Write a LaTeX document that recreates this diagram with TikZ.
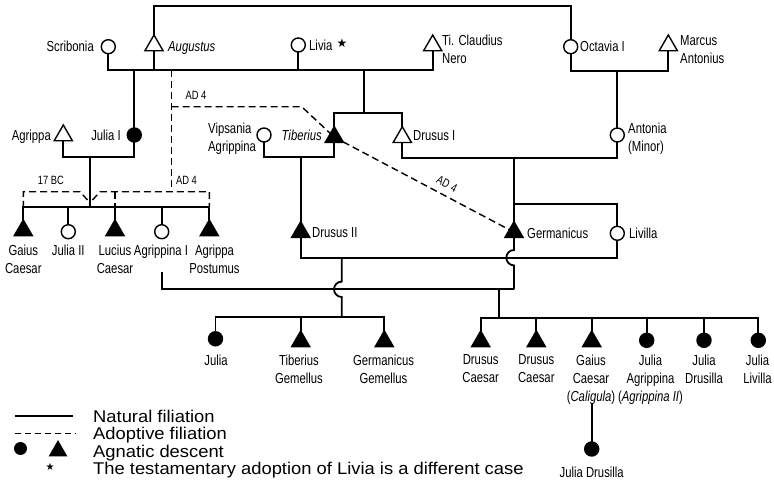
\documentclass[tikz,border=0pt]{standalone}
\usepackage{fontspec}
\setmainfont{Liberation Sans}
\newfontfamily\labfont{Liberation Sans}[FakeStretch=0.78]
\newfontfamily\legfont{Liberation Sans}[FakeStretch=1.08]
\newfontfamily\symfont{DejaVu Sans}
\usetikzlibrary{shapes.geometric}
\begin{document}
\begin{tikzpicture}[x=1pt,y=-1pt,
  male/.style={regular polygon, regular polygon sides=3, minimum size=21pt, inner sep=0pt, outer sep=0pt, draw, line width=1.4pt, fill=white},
  female/.style={circle, minimum size=14pt, inner sep=0pt, outer sep=0pt, draw, line width=1.4pt, fill=white},
  agn/.style={fill=black},
  nat/.style={line width=1.8pt},
  adopt/.style={line width=1.4pt, dash pattern=on 7pt off 4pt},
  lab/.style={font=\labfont\fontsize{14.5}{18}\selectfont, inner sep=0pt},
  kid/.style={lab, anchor=north, align=center},
  small/.style={font=\labfont\fontsize{12}{13}\selectfont, inner sep=0pt},
  leg/.style={font=\legfont\fontsize{17}{20}\selectfont, inner sep=0pt, anchor=base west},
  star/.style={font=\symfont\fontsize{10}{10}\selectfont, inner sep=0pt}]
\useasboundingbox (0,0) rectangle (774,495);

% ---------- persons ----------
\node[female] (scrib) at (108.3,46.7) {};
\node[male] (aug) at (154,45.5) {};
\node[female] (livia) at (298.3,45) {};
\node[male] (nero) at (432.7,45.5) {};
\node[female] (octavia) at (570.7,46.7) {};
\node[male] (antonius) at (668.3,45.5) {};

\node[male] (agrippa) at (63.3,135.5) {};
\node[female, agn] (julia1) at (134.3,135) {};
\node[female] (vips) at (264,135) {};
\node[male, agn] (tib) at (334.3,137.2) {};
\node[male] (drusus1) at (402.3,137.2) {};
\node[female] (antonia) at (617.3,135) {};

\node[male, agn] (gaius) at (23.3,230.5) {};
\node[female] (julia2) at (68.3,231.7) {};
\node[male, agn] (lucius) at (115,230.5) {};
\node[female] (agr1) at (161.7,231.7) {};
\node[male, agn] (postumus) at (209.3,230.5) {};
\node[male, agn] (dru2) at (300.7,232.2) {};
\node[male, agn] (germ) at (514,232.2) {};
\node[female] (livilla) at (617.3,233.3) {};

\node[female, agn] (juliaT) at (215.5,338.8) {};
\node[male, agn] (tgem) at (300.7,341.5) {};
\node[male, agn] (ggem) at (384.3,341.5) {};

\node[male, agn] (drc1) at (480.7,341.5) {};
\node[male, agn] (drc2) at (536.3,341.5) {};
\node[male, agn] (cal) at (591.7,341.5) {};
\node[female, agn] (jagr) at (646.7,340.3) {};
\node[female, agn] (jdru) at (704,340.3) {};
\node[female, agn] (jliv) at (758.3,340.3) {};
\node[female, agn] (jdrusilla) at (591.7,449) {};

% ---------- labels ----------
\node[lab, anchor=base east] (lscrib) at (94,51.8) {Scribonia};
\node[lab, anchor=base west] (laug) at (168,51.8) {\itshape Augustus};
\node[lab, anchor=base west] (llivia) at (309,50.2) {Livia};
\node[star, font=\symfont\fontsize{12}{12}\selectfont] (livstar) at (342,42.8) {★};
\node[lab, anchor=north west, align=left] (lnero) at (442,35) {Ti. Claudius\\Nero};
\node[lab, anchor=base west] (loct) at (580,51.8) {Octavia I};
\node[lab, anchor=north west, align=left] (lanton) at (680,35) {Marcus\\Antonius};
\node[lab, anchor=north west, align=left] (lantonia) at (628,123) {Antonia\\(Minor)};
\node[lab, anchor=north west, align=left] (lvips) at (208,123) {Vipsania\\Agrippina};
\node[lab, anchor=base east] (ltib) at (322,140.3) {\itshape Tiberius};
\node[lab, anchor=base west] (ldrusus1) at (413,140.3) {Drusus I};
\node[lab, anchor=base east] (lagrippa) at (51,140.3) {Agrippa};
\node[lab, anchor=base east] (ljulia1) at (121,140.3) {Julia I};
\node[lab, anchor=base west] (ldru2) at (312,237.8) {Drusus II};
\node[lab, anchor=base west] (lgerm) at (527,238.3) {Germanicus};
\node[lab, anchor=base west] (llivilla) at (629,238.3) {Livilla};

\node[kid] (lgaius) at (23.3,245) {Gaius\\Caesar};
\node[kid] (ljulia2) at (68.3,245) {Julia II};
\node[kid] (llucius) at (115,245) {Lucius\\Caesar};
\node[kid] (lagr1) at (161,245) {Agrippina I};
\node[kid] (lpost) at (214.5,245) {Agrippa\\Postumus};

\node[kid] (ljuliaT) at (216,354.3) {Julia};
\node[kid] (ltgem) at (299,354.3) {Tiberius\\Gemellus};
\node[kid] (lggem) at (383.5,354.3) {Germanicus\\Gemellus};
\node[kid] (ldrc1) at (480.7,354.3) {Drusus\\Caesar};
\node[kid] (ldrc2) at (536.3,354.3) {Drusus\\Caesar};
\node[kid] (lcal) at (591,354.3) {Gaius\\Caesar\\(\textit{Caligula})};
\node[kid] (ljagr) at (650.5,354.3) {Julia\\Agrippina\\(\textit{Agrippina II})};
\node[kid] (ljdru) at (704,354.3) {Julia\\Drusilla};
\node[kid] (ljliv) at (757.5,354.3) {Julia\\Livilla};
\node[kid] (ljdrusilla) at (591.7,466.7) {Julia Drusilla};

\node[small] (ad4a) at (196,95) {AD 4};
\node[small] (ad4b) at (186.5,180) {AD 4};
\node[small] (bc17) at (51,180) {17 BC};
\node[small, rotate=-28] (ad4c) at (447,184) {AD\kern3.2pt 4};

% ---------- natural filiation ----------
\coordinate (topL) at (154,6);
\draw[nat] (aug.north) -- (topL) -| (octavia.north);

\coordinate (m1L) at (108.3,70);
\coordinate (m1R) at (432.7,70);
\draw[nat] (scrib.south) -- (m1L) -- (m1R) -- (nero.south);
\draw[nat] (aug.south) -- (aug.south |- m1L);
\draw[nat] (livia.south) -- (livia.south |- m1L);
\coordinate (d1) at (134.3,70);
\draw[nat] (d1) -- (julia1.north);
\coordinate (d2) at (364.3,70);
\coordinate (s2) at (364.3,113.3);
\draw[nat] (d2) -- (s2);
\draw[nat] (tib.north) |- (s2) -| (drusus1.north);

\coordinate (m2) at (617.3,71);
\draw[nat] (octavia.south) |- (m2) -| (antonius.south);
\draw[nat] (m2) -- (antonia.north);

\coordinate (m3) at (514,158);
\draw[nat] (drusus1.south) |- (m3) -| (antonia.south);
\coordinate (s3) at (514,204.3);
\draw[nat] (m3) -- (s3) -| (livilla.north);
\draw[nat] (s3) -- (germ.north);

\coordinate (m4) at (300.7,157);
\draw[nat] (vips.south) |- (m4) -| (tib.south);
\draw[nat] (m4) -- (dru2.north);

\coordinate (m5) at (90,157);
\draw[nat] (agrippa.south) |- (m5) -| (julia1.south);
\coordinate (s5) at (90,206.7);
\draw[nat] (m5) -- (s5);
\draw[nat] (gaius.north) |- (s5) -| (postumus.north);
\draw[nat] (julia2.north) -- (julia2.north |- s5);
\draw[nat] (lucius.north) -- (lucius.north |- s5);
\draw[nat] (agr1.north) -- (agr1.north |- s5);

% Drusus II -- Livilla
\coordinate (m6) at (341.7,257.7);
\draw[nat] (dru2.south) |- (m6) -| (livilla.south);

% Agrippina I -- Germanicus
\coordinate (agr1low) at (161.7,272);
\coordinate (m7R) at (514,289.3);
\coordinate (m7) at (499,289.3);
\coordinate (hopA) at (514,250);
\draw[nat] (agr1low) |- (m7R);
\draw[nat] (germ.south) -- (hopA) arc[start angle=90, end angle=270, radius=7.7pt] -- (m7R);

% children of Drusus II and Livilla
\coordinate (hopB) at (341.7,281.6);
\coordinate (s6) at (341.7,316.7);
\draw[nat] (m6) -- (hopB) arc[start angle=90, end angle=270, radius=7.7pt] -- (s6);
\draw[nat] (juliaT.north) |- (s6) -| (ggem.north);
\draw[nat] (tgem.north) -- (tgem.north |- s6);

% children of Germanicus and Agrippina I
\coordinate (s7) at (499,318);
\draw[nat] (m7) -- (s7);
\draw[nat] (drc1.north) |- (s7) -| (jliv.north);
\draw[nat] (drc2.north) -- (drc2.north |- s7);
\draw[nat] (cal.north) -- (cal.north |- s7);
\draw[nat] (jagr.north) -- (jagr.north |- s7);
\draw[nat] (jdru.north) -- (jdru.north |- s7);

\coordinate (callow) at (591.7,403);
\draw[nat] (callow) -- (jdrusilla.north);

% ---------- adoptive filiation ----------
\coordinate (a0) at (171.7,70);
\coordinate (a1) at (171.7,106.7);
\coordinate (a2) at (301.7,106.7);
\coordinate (a3) at (171.7,191.7);
\draw[adopt] (a0) -- (a3);
\draw[adopt] (a1) -- (a2) -- (tib);
\draw[adopt] (tib) -- (germ);
\coordinate (bL1) at (80,191.7);
\coordinate (bL2) at (87.5,200);
\coordinate (bR1) at (100,191.7);
\coordinate (bR2) at (92.5,200);
\draw[adopt] (bL2) -- (bL1) -| (gaius.north |- s5);
\draw[adopt] (bR2) -- (bR1) -| (postumus.north |- s5);
\draw[adopt] (lucius.north |- a3) -- (lucius.north |- s5);

% ---------- legend ----------
\coordinate (l1a) at (15,416);
\coordinate (l1b) at (73,416);
\draw[nat] (l1a) -- (l1b);
\coordinate (l2a) at (15,433.5);
\coordinate (l2b) at (76,433.5);
\draw[line width=1.6pt, dash pattern=on 6pt off 4pt] (l2a) -- (l2b);
\node[female, agn, minimum size=11.5pt] (legc) at (20.5,448.5) {};
\node[male, agn, minimum size=19pt] (legt) at (58,451) {};
\node[star] (legs) at (50,466.5) {★};
\node[leg] (t1) at (93,422) {Natural filiation};
\node[leg] (t2) at (93,439.5) {Adoptive filiation};
\node[leg] (t3) at (93,457) {Agnatic descent};
\node[leg] (t4) at (93,474.5) {The testamentary adoption of Livia is a different case};
\end{tikzpicture}
\end{document}
